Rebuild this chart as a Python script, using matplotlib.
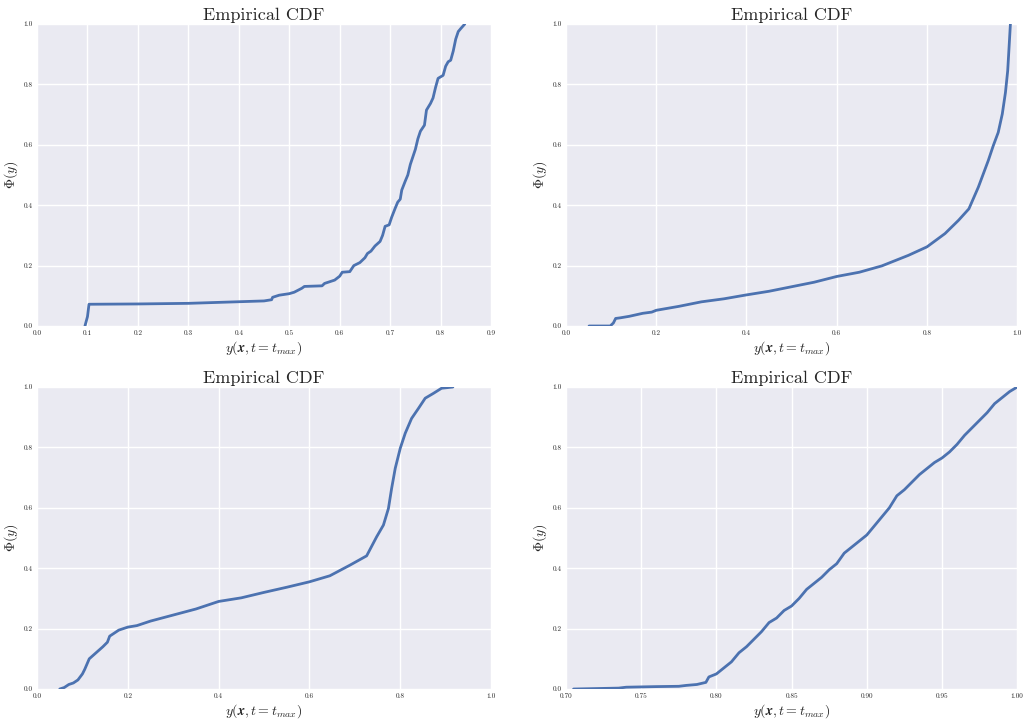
import matplotlib
matplotlib.use("Agg")
import matplotlib.pyplot as plt

# ---- data ----
x1 = [0.095, 0.100, 0.103, 0.20, 0.30, 0.45, 0.465, 0.467, 0.48, 0.50, 0.51, 0.525, 0.53, 0.565,
      0.57, 0.59, 0.60, 0.605, 0.62, 0.628, 0.64, 0.65, 0.655, 0.662, 0.67, 0.68, 0.685, 0.69,
      0.698, 0.703, 0.71, 0.715, 0.72, 0.723, 0.73, 0.735, 0.74, 0.745, 0.75, 0.755, 0.76,
      0.768, 0.772, 0.78, 0.785, 0.79, 0.795, 0.805, 0.81, 0.815, 0.82, 0.825, 0.83, 0.835,
      0.84, 0.848]
y1 = [0.0, 0.031, 0.072, 0.073, 0.075, 0.083, 0.087, 0.095, 0.102, 0.107, 0.112, 0.125, 0.131, 0.133,
      0.141, 0.152, 0.165, 0.178, 0.180, 0.200, 0.210, 0.226, 0.240, 0.248, 0.265, 0.280, 0.300, 0.330,
      0.335, 0.360, 0.390, 0.410, 0.420, 0.450, 0.480, 0.500, 0.535, 0.560, 0.585, 0.620, 0.645,
      0.665, 0.715, 0.737, 0.755, 0.790, 0.820, 0.830, 0.860, 0.875, 0.880, 0.910, 0.950, 0.975,
      0.985, 1.0]

x2 = [0.051, 0.098, 0.105, 0.110, 0.120, 0.140, 0.170, 0.190, 0.200, 0.250, 0.300, 0.350, 0.400,
      0.450, 0.500, 0.550, 0.600, 0.650, 0.700, 0.759, 0.800, 0.840, 0.870, 0.893, 0.914, 0.936,
      0.947, 0.958, 0.967, 0.974, 0.979, 0.982, 0.985]
y2 = [0.0, 0.0, 0.010, 0.025, 0.027, 0.032, 0.042, 0.046, 0.052, 0.065, 0.080, 0.090, 0.103,
      0.115, 0.130, 0.145, 0.164, 0.178, 0.199, 0.234, 0.262, 0.306, 0.350, 0.388, 0.460, 0.548,
      0.597, 0.641, 0.702, 0.773, 0.845, 0.922, 1.0]

x3 = [0.050, 0.060, 0.070, 0.080, 0.090, 0.100, 0.105, 0.115, 0.130, 0.145, 0.155, 0.160, 0.170,
      0.180, 0.200, 0.220, 0.250, 0.300, 0.350, 0.400, 0.450, 0.500, 0.550, 0.600, 0.645, 0.689,
      0.726, 0.748, 0.763, 0.774, 0.781, 0.789, 0.800, 0.811, 0.825, 0.840, 0.855, 0.873, 0.891,
      0.916]
y3 = [0.0, 0.005, 0.015, 0.020, 0.030, 0.050, 0.065, 0.100, 0.120, 0.140, 0.155, 0.175, 0.185,
      0.195, 0.205, 0.210, 0.225, 0.245, 0.265, 0.290, 0.302, 0.320, 0.337, 0.355, 0.375, 0.410,
      0.441, 0.504, 0.543, 0.598, 0.664, 0.731, 0.797, 0.847, 0.896, 0.929, 0.963, 0.979, 0.996,
      1.0]

x4 = [0.705, 0.735, 0.740, 0.760, 0.775, 0.780, 0.787, 0.793, 0.795, 0.800, 0.805, 0.810, 0.815,
      0.820, 0.825, 0.830, 0.835, 0.840, 0.845, 0.850, 0.855, 0.860, 0.865, 0.870, 0.875, 0.880,
      0.885, 0.890, 0.895, 0.900, 0.905, 0.910, 0.915, 0.920, 0.925, 0.930, 0.935, 0.940, 0.945,
      0.950, 0.955, 0.960, 0.965, 0.970, 0.975, 0.980, 0.985, 0.990, 0.995, 1.000]
y4 = [0.0, 0.003, 0.006, 0.008, 0.009, 0.012, 0.015, 0.022, 0.040, 0.050, 0.070, 0.090, 0.120,
      0.140, 0.165, 0.190, 0.220, 0.235, 0.260, 0.275, 0.300, 0.330, 0.350, 0.370, 0.395, 0.415,
      0.450, 0.470, 0.490, 0.510, 0.540, 0.570, 0.600, 0.640, 0.660, 0.685, 0.710, 0.730, 0.750,
      0.765, 0.785, 0.810, 0.840, 0.865, 0.890, 0.915, 0.945, 0.965, 0.985, 1.0]

xlims = [(0.0, 0.9), (0.0, 1.0), (0.0, 1.0), (0.70, 1.00)]
xticks = [[0.0, 0.1, 0.2, 0.3, 0.4, 0.5, 0.6, 0.7, 0.8, 0.9],
          [0.0, 0.2, 0.4, 0.6, 0.8, 1.0],
          [0.0, 0.2, 0.4, 0.6, 0.8, 1.0],
          [0.70, 0.75, 0.80, 0.85, 0.90, 0.95, 1.00]]
xfmt = ["%.1f", "%.1f", "%.1f", "%.2f"]
yticks = [0.0, 0.2, 0.4, 0.6, 0.8, 1.0]

title = "Empirical CDF"
xlabel = r"$y(\boldsymbol{x}, t = t_{max})$"
ylabel = r"$\Phi(y)$"

# ---- style ----
plt.rcParams.update({
    "font.family": "cmr10",
    "mathtext.fontset": "cm",
    "axes.formatter.use_mathtext": True,
    "axes.facecolor": "#EAEAF2",
    "axes.edgecolor": "white",
    "axes.grid": True,
    "grid.color": "white",
    "grid.linewidth": 1.0,
    "axes.axisbelow": True,
    "text.color": "#262626",
    "axes.labelcolor": "#262626",
    "xtick.color": "#262626",
    "ytick.color": "#262626",
})

fig = plt.figure(figsize=(10.23, 7.19), dpi=100)
positions = [
    (0.0362, 0.5466, 0.4438, 0.4200),
    (0.5533, 0.5466, 0.4410, 0.4200),
    (0.0362, 0.0417, 0.4438, 0.4200),
    (0.5533, 0.0417, 0.4410, 0.4200),
]
xs = [x1, x2, x3, x4]
ys = [y1, y2, y3, y4]

for i in range(4):
    ax = fig.add_axes(positions[i])
    ax.plot(xs[i], ys[i], color="#4C72B0", linewidth=2.0, solid_capstyle="round")
    ax.set_xlim(*xlims[i])
    ax.set_ylim(0.0, 1.0)
    ax.set_xticks(xticks[i])
    ax.set_xticklabels([xfmt[i] % v for v in xticks[i]])
    ax.set_yticks(yticks)
    ax.set_yticklabels(["%.1f" % v for v in yticks])
    ax.tick_params(axis="both", length=0, labelsize=5.2, pad=3)
    for s in ax.spines.values():
        s.set_visible(False)
    ax.set_title(title, fontsize=13, pad=3)
    ax.set_xlabel(xlabel, fontsize=10)
    ax.set_ylabel(ylabel, fontsize=10)
    ax.xaxis.set_label_coords(0.5, -0.043)
    ax.yaxis.set_label_coords(-0.038, 0.5)

fig.savefig("out.png", dpi=100)
